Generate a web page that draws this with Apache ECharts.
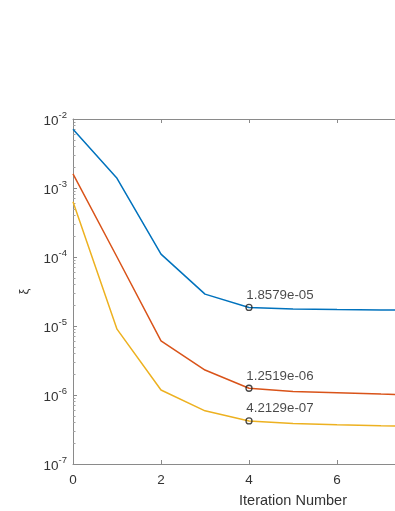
<!DOCTYPE html>
<html>
<head>
<meta charset="utf-8">
<script src="https://cdn.jsdelivr.net/npm/echarts@6/dist/echarts.min.js"></script>
<style>
  html, body { margin: 0; padding: 0; background: #fff; }
  #chart { width: 395px; height: 511px; }
</style>
</head>
<body>
<div id="chart"></div>
<script>
// iteration numbers
var iters = [0, 1, 2, 3, 4, 5, 6, 7, 8, 9, 10];
// residuals per run
var blueVals = [7.1e-3, 1.38e-3, 1.1e-4, 2.9e-5, 1.8579e-05, 1.76e-5, 1.73e-5, 1.71e-5, 1.7e-5, 1.69e-5, 1.68e-5];
var redVals = [1.6e-3, 1.0e-4, 6.1e-6, 2.3e-6, 1.2519e-06, 1.12e-6, 1.08e-6, 1.03e-6, 1.0e-6, 0.98e-6, 0.96e-6];
var yellowVals = [6.3e-4, 9.0e-6, 1.18e-6, 5.9e-7, 4.2129e-07, 3.85e-7, 3.7e-7, 3.58e-7, 3.5e-7, 3.45e-7, 3.4e-7];
// data tips shown at this iteration
var tipIter = 4;
var minorTicks = [];
for (var e = -7; e < -2; e++) {
  for (var m = 2; m <= 9; m++) minorTicks.push(m * Math.pow(10, e));
}

var colors = ['#0072BD', '#D95319', '#EDB120'];
var allVals = [blueVals, redVals, yellowVals];

function fmtExp(v) {
  var s = v.toExponential(4);
  return s.replace(/e([+-])(\d)$/, 'e$10$2');
}

var chart = echarts.init(document.getElementById('chart'));

var series = allVals.map(function (vals, i) {
  return {
    type: 'line',
    data: iters.map(function (x, k) { return [x, vals[k]]; }),
    showSymbol: false,
    symbol: 'none',
    lineStyle: { color: colors[i], width: 1.5 },
    itemStyle: { color: colors[i] },
    z: 2
  };
});
series.push({
  type: 'scatter',
  data: allVals.map(function (vals) { return [tipIter, vals[iters.indexOf(tipIter)]]; }),
  symbol: 'circle',
  symbolSize: 6,
  itemStyle: { color: 'rgba(255,255,255,0)', borderColor: '#1a1a1a', borderWidth: 1.3 },
  label: {
    show: true,
    position: [1, -15],
    align: 'left',
    color: '#1a1a1a',
    fontFamily: 'Arial',
    fontSize: 13.3,
    formatter: function (p) { return fmtExp(p.value[1]); }
  },
  z: 5
});

var option = {
  animation: false,
  grid: { left: 73, top: 119, width: 440, height: 345, outerBoundsMode: 'none', containLabel: false },
  xAxis: [{
    type: 'value',
    min: 0, max: 10, interval: 2,
    name: 'Iteration Number',
    nameLocation: 'middle',
    nameGap: 29,
    nameTextStyle: { color: '#333', fontFamily: 'Arial', fontSize: 14.5 },
    axisLine: { lineStyle: { color: '#8a8a8a', width: 1 } },
    axisTick: { inside: true, length: 4, lineStyle: { color: '#8a8a8a' } },
    axisLabel: { color: '#333', fontFamily: 'Arial', fontSize: 13.5, margin: 9 },
    splitLine: { show: false }
  }, {
    type: 'value',
    position: 'top',
    min: 0, max: 10, interval: 2,
    axisLine: { lineStyle: { color: '#8a8a8a', width: 1 } },
    axisTick: { inside: true, length: 4, lineStyle: { color: '#8a8a8a' } },
    axisLabel: { show: false },
    splitLine: { show: false }
  }],
  yAxis: [{
    type: 'log',
    min: 1e-7, max: 1e-2, logBase: 10,
    name: 'ξ',
    nameLocation: 'middle',
    nameGap: 42,
    nameTextStyle: { color: '#333', fontFamily: 'Arial', fontSize: 13 },
    axisLine: { show: true, lineStyle: { color: '#8a8a8a', width: 1 } },
    axisTick: { inside: true, length: 4, lineStyle: { color: '#8a8a8a' } },
    axisLabel: {
      margin: 6,
      fontFamily: 'Arial',
      color: '#333',
      formatter: function (v) {
        return '{b|10}{s|' + Math.round(Math.log10(v)) + '}';
      },
      rich: {
        b: { fontSize: 13.5, fontFamily: 'Arial', color: '#333', verticalAlign: 'bottom', lineHeight: 14 },
        s: { fontSize: 9.5, fontFamily: 'Arial', color: '#333', verticalAlign: 'top', padding: [0, 0, 8, 0] }
      }
    },
    splitLine: { show: false }
  }, {
    type: 'log',
    min: 1e-7, max: 1e-2, logBase: 10,
    position: 'left',
    axisLine: { show: false },
    axisTick: { show: true, inside: true, length: 2.5, customValues: minorTicks, lineStyle: { color: '#a0a0a0' } },
    axisLabel: { show: false },
    splitLine: { show: false }
  }],
  series: series
};

chart.setOption(option);
</script>
</body>
</html>
